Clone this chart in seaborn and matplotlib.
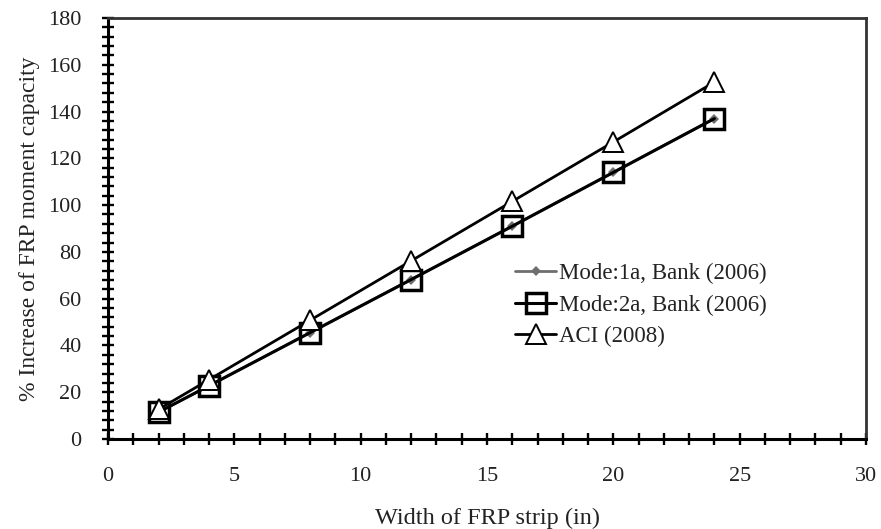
import numpy as np
import pandas as pd
import seaborn as sns
import matplotlib.pyplot as plt
from matplotlib.ticker import MultipleLocator

# width of FRP strip (in)
width = [2, 4, 8, 12, 16, 20, 24]

# % increase of FRP moment capacity
mode1a = [11.5, 22.8, 45.5, 68.2, 91.0, 114.0, 137.0]
mode2a = [11.5, 22.8, 45.5, 68.2, 91.0, 114.0, 137.0]
aci = [12.7, 25.4, 50.8, 76.2, 101.6, 127.0, 152.6]

labels = ["Mode:1a, Bank (2006)", "Mode:2a, Bank (2006)", "ACI (2008)"]

sns.set_style("white")
plt.rcParams["font.family"] = ["Liberation Serif", "DejaVu Serif"]

fig = plt.figure(figsize=(8.81, 5.29), dpi=100)
ax = fig.add_axes([0.1226, 0.170, 0.8604, 0.796])

# Mode 1a: small grey diamonds (mostly hidden under mode 2a)
sns.lineplot(x=width, y=mode1a, ax=ax, color="#6e6e6e", lw=2,
             marker="D", markersize=5, markeredgewidth=0,
             label=labels[0], zorder=2)
# Mode 2a: open squares
sns.lineplot(x=width, y=mode2a, ax=ax, color="black", lw=2.2,
             marker="s", markersize=15, markerfacecolor="none",
             markeredgecolor="black", markeredgewidth=2.5,
             label=labels[1], zorder=3)
# ACI: open triangles
sns.lineplot(x=width, y=aci, ax=ax, color="black", lw=2,
             marker="^", markersize=14, markerfacecolor="white",
             markeredgecolor="black", markeredgewidth=1.4,
             label=labels[2], zorder=3)

ax.set_xlim(0, 30)
ax.set_ylim(0, 180)
ax.xaxis.set_major_locator(MultipleLocator(5))
ax.xaxis.set_minor_locator(MultipleLocator(1))
ax.yaxis.set_major_locator(MultipleLocator(20))
ax.yaxis.set_minor_locator(MultipleLocator(4))
ax.tick_params(which="both", direction="inout", length=8, width=1.7,
               color="black", labelsize=16, labelcolor="#222222",
               bottom=True, left=True, top=False, right=False)
ax.tick_params(axis="x", which="major", pad=16)
ax.tick_params(axis="y", which="major", pad=15)

for side in ["left", "bottom"]:
    ax.spines[side].set_color("black")
    ax.spines[side].set_linewidth(2.2)
for side in ["top", "right"]:
    ax.spines[side].set_color("#333333")
    ax.spines[side].set_linewidth(2)

ax.set_xlabel("Width of FRP strip (in)", fontsize=17.5, color="#222222", labelpad=16)
ax.set_ylabel("% Increase of FRP moment capacity", fontsize=17, color="#222222", labelpad=6)

leg = ax.legend(loc="upper left", bbox_to_anchor=(0.525, 0.44), frameon=False,
                fontsize=16.5, handlelength=1.8, handletextpad=0.1,
                labelspacing=0.45, borderaxespad=0)
for t in leg.get_texts():
    t.set_color("#222222")

fig.savefig("out.png", dpi=100)
